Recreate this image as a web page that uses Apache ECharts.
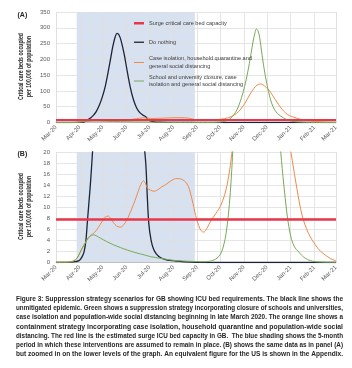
<!DOCTYPE html>
<html><head><meta charset="utf-8">
<script src="https://cdn.jsdelivr.net/npm/echarts@6/dist/echarts.min.js"></script>
<style>html,body{margin:0;padding:0;background:#fff}#c{width:352px;height:368px}</style>
</head><body><div id="c"></div>
<script>
// ---------- data (days since 1 Mar 2020) ----------
const monthNames = ['Jan','Feb','Mar','Apr','May','Jun','Jul','Aug','Sep','Oct','Nov','Dec'];
const shadeStart = '2020-03-28';
const shadeEnd = '2020-08-29';
const surgeCapacity = 7.8;
const redDays = [0, 365];
const redVals = [surgeCapacity, surgeCapacity];

const blackDays = [0,15,25,30,32,35,37,39,41,43,45,48,52,56,60,64,68,71,74,77,79.5,82,85,89,93,97,101,105,109,113,117,119,121,124,127,131,136,145,155,168,185,210,365];
const blackVals = [0,0.02,0.15,0.35,0.6,1.3,2.2,4,7.5,11,14.5,21,33,52,78,112,160,200,240,270,282,278,258,215,160,110,72,47,32,24,18,12,7,4,2.5,1.5,0.9,0.45,0.3,0.12,0.03,0,0];

const orangeDays = [0,10,18,23,27,31,35,38,42,46,50,55,60,64,68,71,75,79,84,88,92,96,101,105,109,112,114,116.5,119,123,128,133,138,143,149,154,158,163,167,171,174,177,180,182,186,189,192.5,196,199,205,210,214,220,225,229,235,241,247,253,258,262,266,270,274,278,282,286,290,295,299,304,308,314,320.7,329,338,345,351,358,365];
const orangeVals = [0.05,0.06,0.1,0.3,0.7,1.7,2.8,3.5,4.5,5.0,5.4,6.3,7.4,8.2,8.4,8.0,7.2,6.6,6.4,6.8,7.6,8.8,10.5,12.0,13.6,14.5,14.8,14.4,13.5,13.1,12.9,13.2,13.7,14.1,14.7,15.1,15.2,15.1,14.8,14.2,13.2,11.6,9.8,8.5,6.7,5.8,5.5,6.0,6.8,8.2,9.2,10.1,12.3,15.5,19.5,28,43,64,90,108,118,122,119,111,101,87,72,57,41,31,22,18.5,13.4,8.6,5.3,3.2,2.0,1.36,0.7,0.3];

const greenDays = [0,10,18,23,27,31,35,38,42,46,49,53,58,66,75,84,93,102,110,117,123,130,136,143,149,158,166,177,188,195,201,206,210,214,218,222,226,230,234,238,242,246,250,254,257,259.5,261,263,265.5,268.5,272.7,277,281,285,289,293,297,300.5,303.5,307,311,316,325,338,365];
const greenVals = [0.05,0.06,0.1,0.3,0.7,1.7,2.8,3.5,4.4,4.9,5.0,4.8,4.4,3.8,3.2,2.7,2.25,1.85,1.55,1.3,1.06,0.9,0.75,0.6,0.45,0.33,0.27,0.2,0.15,0.15,0.25,0.45,0.8,1.4,2.8,5.5,10.5,19,32,52,80,115,160,215,258,285,296,292,270,215,150,98,62,40,28,20,14,9.5,6.5,4.2,2.8,1.96,0.76,0.15,0.03];

const seriesNames = ['Surge critical care bed capacity','Do nothing',
  'Case isolation, household quarantine and\ngeneral social distancing',
  'School and university closure, case\nisolation and general social distancing'];
const yTitle = ['Critical care beds occupied','per 100,000 of population'];
const captionLines = [
 'Figure 3: Suppression strategy scenarios for GB showing ICU bed requirements. The black line shows the',
 'unmitigated epidemic. Green shows a suppression strategy incorporating closure of schools and universities,',
 'case isolation and population-wide social distancing beginning in late March 2020. The orange line shows a',
 'containment strategy incorporating case isolation, household quarantine and population-wide social',
 'distancing. The red line is the estimated surge ICU bed capacity in GB.  The blue shading shows the 5-month',
 'period in which these interventions are assumed to remain in place. (B) shows the same data as in panel (A)',
 'but zoomed in on the lower levels of the graph. An equivalent figure for the US is shown in the Appendix.'
];

// ---------- helpers ----------
const DAY = 86400000;
const T0 = Date.UTC(2020,2,1);
const T1 = Date.UTC(2021,2,1);
const pts = (days, vals) => days.map((d,i)=>[T0 + d*DAY, vals[i]]);
const FF = 'Liberation Sans';
const mctx = document.createElement('canvas').getContext('2d');
function textW(t, font){ mctx.font = font; return mctx.measureText(t).width; }

const colors = {red:'#e8364a', black:'#1c2438', orange:'#ee8a4c', green:'#77aa58', shade:'#d8e1ef', grid:'#dedede'};

const grids = [
  {left:56, top:12, width:280, height:110.5},
  {left:56, top:152, width:280, height:110.5}
];
const yCfg = [{max:350, interval:50},{max:20, interval:2}];

const xAxes = grids.map((g,i)=>({
  type:'time', gridIndex:i, min:T0, max:T1, minInterval:32*DAY, maxInterval:32*DAY,
  axisLine:{show:true, lineStyle:{color:'#bfbfbf', width:1}},
  axisTick:{show:false},
  axisLabel:{rotate:45, fontSize:6, color:'#595959', fontFamily:FF, margin:4, showMinLabel:true, showMaxLabel:true, hideOverlap:false,
    formatter:(v)=>{const d=new Date(v); return monthNames[d.getUTCMonth()]+'-'+String(d.getUTCFullYear()).slice(2);}},
  splitLine:{show:true, lineStyle:{color:colors.grid, width:0.8}}
}));
const yAxes = grids.map((g,i)=>({
  type:'value', gridIndex:i, min:0, max:yCfg[i].max, interval:yCfg[i].interval,
  axisLine:{show:false}, axisTick:{show:false},
  axisLabel:{fontSize:6, color:'#595959', fontFamily:FF, margin:6},
  splitLine:{show:true, lineStyle:{color:colors.grid, width:0.8}}
}));

const series = [];
grids.forEach((g,i)=>{
  series.push({
    type:'custom', xAxisIndex:i, yAxisIndex:i, z:-1, silent:true,
    data:[[shadeStart, shadeEnd]], encode:{x:[0,1]},
    renderItem:(params, api)=>{
      const s = api.coord([api.value(0), 0]);
      const e = api.coord([api.value(1), 0]);
      const cs = params.coordSys;
      return {type:'rect', shape:{x:s[0], y:cs.y, width:e[0]-s[0], height:cs.height}, style:{fill:colors.shade}};
    }
  });
  const common = {type:'line', xAxisIndex:i, yAxisIndex:i, symbol:'none', smooth:0.35, silent:true, animation:false, clip:true};
  series.push(Object.assign({}, common, {name:seriesNames[1], data:pts(blackDays, blackVals), lineStyle:{color:colors.black, width:1.3}, itemStyle:{color:colors.black}}));
  series.push(Object.assign({}, common, {name:seriesNames[2], data:pts(orangeDays, orangeVals), lineStyle:{color:colors.orange, width:1}, itemStyle:{color:colors.orange}}));
  series.push(Object.assign({}, common, {name:seriesNames[3], data:pts(greenDays, greenVals), lineStyle:{color:colors.green, width:1}, itemStyle:{color:colors.green}}));
  series.push(Object.assign({}, common, {name:seriesNames[0], smooth:false, data:pts(redDays, redVals), lineStyle:{color:colors.red, width:i===0?2:2.5}, itemStyle:{color:colors.red}}));
});

const legendTops = [19.5, 38.5, 55, 73.5];
const iconH = [2.5, 1.3, 1, 1];
const legends = seriesNames.map((n,i)=>({
  orient:'vertical', left:134, top:legendTops[i], padding:0, itemGap:0,
  itemWidth:10, itemHeight:iconH[i], icon:'rect', selectedMode:false, data:[n],
  textStyle:{fontSize:5.6, color:'#404040', fontFamily:"'Liberation Sans Narrow', 'Liberation Sans'", lineHeight:7.5}
}));

// graphic texts
const graphics = [];
const capFont = 'bold 7px ' + FF;
captionLines.forEach((t,i)=>{
  const w = textW(t, capFont);
  graphics.push({type:'text', x:16, y:299 + i*9.22, scaleX:327/w, silent:true,
    style:{text:t, fontSize:7, fontWeight:'bold', fontFamily:FF, fill:'#262626', verticalAlign:'middle', align:'left'}});
});
const ytFont = 'bold 6.5px ' + FF;
[66.5, 206.5].forEach(cy=>{
  yTitle.forEach((t,j)=>{
    const target = j===0 ? 67 : 61;
    graphics.push({type:'text', x: j===0 ? 21.5 : 29.5, y:cy, rotation:Math.PI/2, scaleX: target/textW(t, ytFont), silent:true,
      style:{text:t, fontSize:6.5, fontWeight:'bold', fontFamily:FF, fill:'#262626', align:'center', verticalAlign:'middle'}});
  });
});
[['(A)',15],['(B)',154]].forEach(([t,y])=>{
  graphics.push({type:'text', x:17.5, y:y, silent:true,
    style:{text:t, fontSize:7, fontWeight:'bold', fontFamily:FF, fill:'#262626', verticalAlign:'middle'}});
});

const chart = echarts.init(document.getElementById('c'), null, {renderer:'canvas'});
chart.setOption({
  useUTC:true, animation:false, backgroundColor:'#ffffff',
  grid:grids, xAxis:xAxes, yAxis:yAxes, series:series, legend:legends, graphic:graphics
});
</script></body></html>
